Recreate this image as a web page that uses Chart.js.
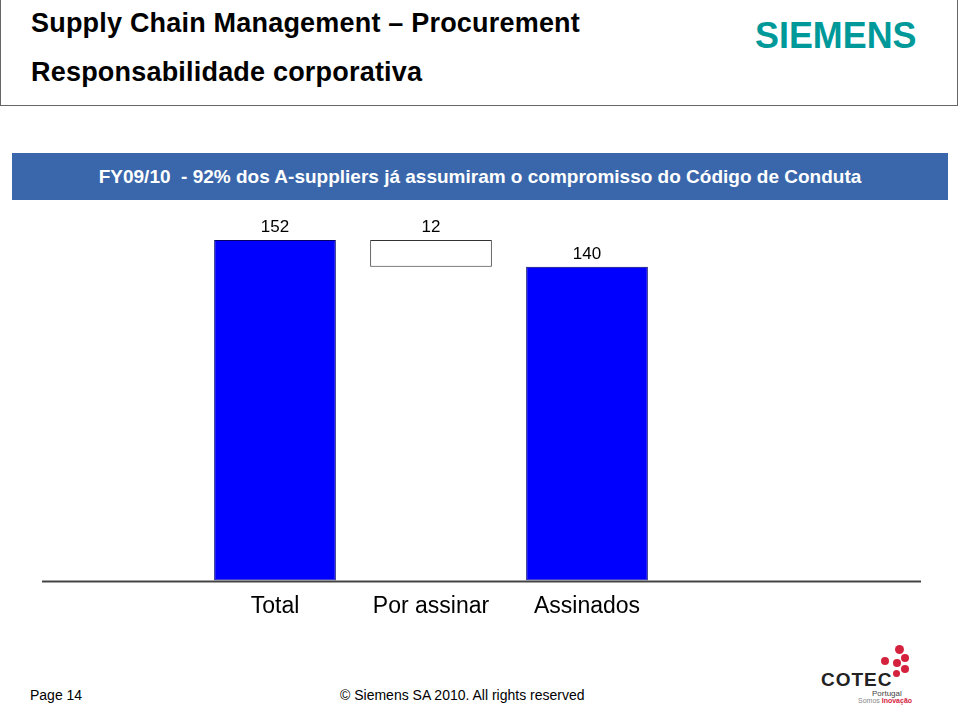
<!DOCTYPE html>
<html>
<head>
<meta charset="utf-8">
<script src="https://cdn.jsdelivr.net/npm/chart.js@4.4.0/dist/chart.umd.min.js"></script>
<style>
  body { margin: 0; width: 960px; height: 705px; background: #fff; font-family: "Liberation Sans", Arial, sans-serif; position: relative; overflow: hidden; }
  .header { position: absolute; left: 0; top: 0; width: 956px; height: 105px; border: 1px solid #666; border-top: none; }
  .h1 { position: absolute; left: 30px; top: 8px; font-size: 27px; font-weight: bold; color: #000; letter-spacing: 0.2px; }
  .h2 { position: absolute; left: 30px; top: 57px; font-size: 27px; font-weight: bold; color: #000; letter-spacing: 0.2px; }
  .logo { position: absolute; left: 754px; top: 15px; font-size: 37px; font-weight: bold; color: #009999; transform: scaleX(0.97); transform-origin: left; }
  .banner { position: absolute; left: 12px; top: 153px; width: 936px; height: 47px; background: #3a67ab; color: #fff; font-size: 19px; font-weight: bold; text-align: center; line-height: 48px; }
  .chart-box { position: absolute; left: 0; top: 200px; width: 960px; height: 432px; }
  .page { position: absolute; left: 30px; top: 687px; font-size: 14px; color: #000; }
  .copy { position: absolute; left: 340px; top: 687px; font-size: 14px; color: #000; }
  .cotec { position: absolute; left: 821px; top: 669px; font-size: 19px; font-weight: bold; color: #222; letter-spacing: 1px; }
  .cotec-sub { position: absolute; left: 872px; top: 689px; font-size: 8px; color: #444; }
  .cotec-sub2 { position: absolute; left: 858px; top: 697px; font-size: 7px; color: #888; }
  .dot { position: absolute; border-radius: 50%; background: #d4213d; }
</style>
</head>
<body>
<div class="header">
  <div class="h1">Supply Chain Management – Procurement</div>
  <div class="h2">Responsabilidade corporativa</div>
  <div class="logo">SIEMENS</div>
</div>
<div class="banner">FY09/10&nbsp; - 92% dos A-suppliers já assumiram o compromisso do Código de Conduta</div>
<div class="chart-box"><canvas id="wf"></canvas></div>
<div class="page">Page 14</div>
<div class="copy">© Siemens SA 2010. All rights reserved</div>
<div class="dot" style="left:881px;top:657px;width:8px;height:8px"></div>
<div class="dot" style="left:895px;top:645px;width:9px;height:9px"></div>
<div class="dot" style="left:901px;top:654px;width:8px;height:8px"></div>
<div class="dot" style="left:893px;top:659px;width:8px;height:8px"></div>
<div class="dot" style="left:901px;top:665px;width:8px;height:8px"></div>
<div class="dot" style="left:893px;top:670px;width:7px;height:7px"></div>
<div class="cotec">COTEC</div>
<div class="cotec-sub">Portugal</div>
<div class="cotec-sub2">Somos <b style="color:#d4213d">Inovação</b></div>

<script>
// Waterfall data
const categories = ['Total', 'Por assinar', 'Assinados'];
const values = [152, 12, 140];
const bases = [0, 140, 0];

const fillColors = ['#0000ff', '#ffffff', '#0000ff'];
const edgeColors = ['#000066', '#333333', '#000066'];

// value labels above each bar
const valueLabels = {
    id: 'valueLabels',
    afterDatasetsDraw(chart) {
        const ctx = chart.ctx;
        const meta = chart.getDatasetMeta(0);
        ctx.save();
        ctx.font = '17px "Liberation Sans", Arial, sans-serif';
        ctx.fillStyle = '#000';
        ctx.textAlign = 'center';
        ctx.textBaseline = 'bottom';
        meta.data.forEach((bar, i) => {
            ctx.fillText(String(values[i]), bar.x, bar.y - 4);
        });
        ctx.restore();
    }
};

// long baseline under the bars
const baseline = {
    id: 'baseline',
    afterDatasetsDraw(chart) {
        const ctx = chart.ctx;
        const y = chart.scales.y.getPixelForValue(0);
        ctx.save();
        ctx.strokeStyle = '#444';
        ctx.lineWidth = 2;
        ctx.beginPath();
        ctx.moveTo(42, y + 1);
        ctx.lineTo(921, y + 1);
        ctx.stroke();
        ctx.restore();
    }
};

new Chart(document.getElementById('wf'), {
    type: 'bar',
    data: {
        labels: categories,
        datasets: [{
            data: values.map((v, i) => [bases[i], bases[i] + v]),
            backgroundColor: fillColors,
            borderColor: edgeColors,
            borderWidth: 1,
            borderSkipped: false,
            categoryPercentage: 1,
            barPercentage: 0.78
        }]
    },
    options: {
        responsive: true,
        maintainAspectRatio: false,
        animation: false,
        layout: {
            padding: { left: 197, right: 295, top: 40, bottom: 0 }
        },
        plugins: {
            legend: { display: false },
            tooltip: { enabled: false }
        },
        scales: {
            x: {
                grid: { display: false, drawTicks: false },
                border: { display: false },
                ticks: {
                    color: '#000',
                    padding: 12,
                    font: { family: '"Liberation Sans", Arial, sans-serif', size: 23 }
                }
            },
            y: {
                display: false,
                min: 0,
                max: 152
            }
        }
    },
    plugins: [valueLabels, baseline]
});
</script>
</body>
</html>
